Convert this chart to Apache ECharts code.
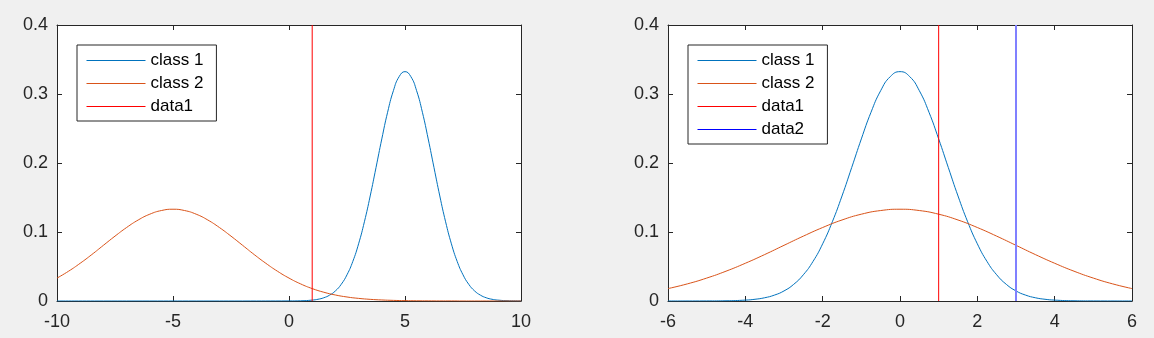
<!DOCTYPE html>
<html>
<head>
<meta charset="utf-8">
<script src="https://cdn.jsdelivr.net/npm/echarts@6/dist/echarts.min.js"></script>
<style>
html,body{margin:0;padding:0;background:#f0f0f0;}
#chart{width:1154px;height:338px;}
</style>
</head>
<body>
<div id="chart"></div>
<script>
// ---- data ----
var leftXTicks = [-10, -5, 0, 5, 10];
var rightXTicks = [-6, -4, -2, 0, 2, 4, 6];
var yTicks = [0, 0.1, 0.2, 0.3, 0.4];

var leftClass1X = [-10,-8,-6,-4,-2,0,0.5,1,1.25,1.5,1.75,2,2.25,2.5,2.75,3,3.25,3.5,3.75,4,4.25,4.5,4.75,5,5.25,5.5,5.75,6,6.25,6.5,6.75,7,7.25,7.5,7.75,8,8.25,8.5,8.75,9,9.5,10];
var leftClass1Y = [0,0,0,0,0,0.0001,0.0003,0.0013,0.0025,0.0047,0.0085,0.0146,0.0241,0.0380,0.0573,0.0829,0.1148,0.1522,0.1933,0.2349,0.2735,0.3048,0.3253,0.3324,0.3253,0.3048,0.2735,0.2349,0.1933,0.1522,0.1148,0.0829,0.0573,0.0380,0.0241,0.0146,0.0085,0.0047,0.0025,0.0013,0.0003,0.0001];

var leftClass2X = [-10,-9.5,-9,-8.5,-8,-7.5,-7,-6.5,-6,-5.5,-5,-4.5,-4,-3.5,-3,-2.5,-2,-1.5,-1,-0.5,0,0.5,1,1.5,2,2.5,3,3.5,4,4.5,5,5.5,6,6.5,7,7.5,8,8.5,9,9.5,10];
var leftClass2Y = [0.0332,0.0432,0.0547,0.0673,0.0807,0.0940,0.1065,0.1174,0.1258,0.1311,0.1330,0.1311,0.1258,0.1174,0.1065,0.0940,0.0807,0.0673,0.0547,0.0432,0.0332,0.0248,0.0180,0.0127,0.0087,0.0058,0.0038,0.0024,0.0015,0.0009,0.0005,0.0003,0.0002,0.0001,0.0001,0,0,0,0,0,0];

var rightClass1X = [-6,-5,-4.5,-4,-3.75,-3.5,-3.25,-3,-2.75,-2.5,-2.25,-2,-1.75,-1.5,-1.25,-1,-0.75,-0.5,-0.25,0,0.25,0.5,0.75,1,1.25,1.5,1.75,2,2.25,2.5,2.75,3,3.25,3.5,3.75,4,4.5,5,6];
var rightClass1Y = [0,0.0001,0.0003,0.0013,0.0025,0.0047,0.0085,0.0146,0.0241,0.0380,0.0573,0.0829,0.1148,0.1522,0.1933,0.2349,0.2735,0.3048,0.3253,0.3324,0.3253,0.3048,0.2735,0.2349,0.1933,0.1522,0.1148,0.0829,0.0573,0.0380,0.0241,0.0146,0.0085,0.0047,0.0025,0.0013,0.0003,0.0001,0];

var rightClass2X = [-6,-5.5,-5,-4.5,-4,-3.5,-3,-2.5,-2,-1.5,-1,-0.5,0,0.5,1,1.5,2,2.5,3,3.5,4,4.5,5,5.5,6];
var rightClass2Y = [0.0180,0.0248,0.0332,0.0432,0.0547,0.0673,0.0807,0.0940,0.1065,0.1174,0.1258,0.1311,0.1330,0.1311,0.1258,0.1174,0.1065,0.0940,0.0807,0.0673,0.0547,0.0432,0.0332,0.0248,0.0180];

var leftData1X = 1;
var rightData1X = 1;
var rightData2X = 3;
var vlineY = [0, 0.4];

var names = ['class 1', 'class 2', 'data1', 'data2'];

// ---- build ----
function zip(xs, ys) { return xs.map(function (x, i) { return [x, ys[i]]; }); }
function vline(x) { return vlineY.map(function (y) { return [x, y]; }); }

var FONT = '"Liberation Sans", Arial, Helvetica, sans-serif';
var AX = '#262626';
var C1 = '#0072BD', C2 = '#D95319', RED = '#FF0000', BLUE = '#0000FF', LIGHTBLUE = '#8080FF';

function xAxisDef(grid, ticks, pos, labels) {
  return {
    type: 'value', gridIndex: grid, position: pos,
    min: ticks[0], max: ticks[ticks.length - 1], interval: ticks[1] - ticks[0],
    axisLine: { show: true, onZero: false, lineStyle: { color: AX, width: 1 } },
    axisTick: { show: true, inside: true, length: 5, lineStyle: { color: AX } },
    axisLabel: { show: labels, color: AX, fontSize: 18, fontFamily: FONT, margin: 12 },
    splitLine: { show: false }
  };
}
function yAxisDef(grid, pos, labels) {
  return {
    type: 'value', gridIndex: grid, position: pos,
    min: yTicks[0], max: yTicks[yTicks.length - 1], interval: yTicks[1] - yTicks[0],
    axisLine: { show: true, onZero: false, lineStyle: { color: AX, width: 1 } },
    axisTick: { show: true, inside: true, length: 5, lineStyle: { color: AX } },
    axisLabel: { show: labels, color: AX, fontSize: 18, fontFamily: FONT, margin: 9 },
    splitLine: { show: false }
  };
}
function lineSeries(name, data, xi, yi, color, width, smooth) {
  return {
    type: 'line', name: name, data: data, xAxisIndex: xi, yAxisIndex: yi,
    symbol: 'none', showSymbol: false, smooth: smooth,
    color: color,
    lineStyle: { color: color, width: width },
    itemStyle: { color: color },
    emphasis: { disabled: true }, animation: false, z: 3
  };
}
function legendDef(left, items) {
  return {
    left: left, top: 45, orient: 'vertical',
    data: items,
    backgroundColor: '#ffffff', borderColor: AX, borderWidth: 1,
    padding: [7, 13, 6, 9], itemGap: 6, itemWidth: 59, itemHeight: 17,
    textStyle: { color: '#000', fontSize: 17, fontFamily: FONT },
    itemStyle: { opacity: 0, borderWidth: 0 },
    lineStyle: { width: 1 },
    selectedMode: false
  };
}

var option = {
  backgroundColor: '#f0f0f0',
  animation: false,
  grid: [
    { left: 57, top: 25, width: 464, height: 276, show: true, backgroundColor: '#ffffff', borderWidth: 0 },
    { left: 668, top: 25, width: 464, height: 276, show: true, backgroundColor: '#ffffff', borderWidth: 0 }
  ],
  xAxis: [
    xAxisDef(0, leftXTicks, 'bottom', true),
    xAxisDef(0, leftXTicks, 'top', false),
    xAxisDef(1, rightXTicks, 'bottom', true),
    xAxisDef(1, rightXTicks, 'top', false)
  ],
  yAxis: [
    yAxisDef(0, 'left', true),
    yAxisDef(0, 'right', false),
    yAxisDef(1, 'left', true),
    yAxisDef(1, 'right', false)
  ],
  legend: [
    legendDef(77, [names[0], names[1], names[2]]),
    legendDef(688, [names[0], names[1], names[2],
      { name: names[3], lineStyle: { color: BLUE, width: 1 } }])
  ],
  series: [
    lineSeries(names[0], zip(leftClass1X, leftClass1Y), 0, 0, C1, 1, true),
    lineSeries(names[1], zip(leftClass2X, leftClass2Y), 0, 0, C2, 1, true),
    lineSeries(names[2], vline(leftData1X), 0, 0, RED, 1, false),
    lineSeries(names[0], zip(rightClass1X, rightClass1Y), 2, 2, C1, 1, true),
    lineSeries(names[1], zip(rightClass2X, rightClass2Y), 2, 2, C2, 1, true),
    lineSeries(names[2], vline(rightData1X), 2, 2, RED, 1, false),
    lineSeries(names[3], vline(rightData2X), 2, 2, LIGHTBLUE, 2, false)
  ]
};

var chart = echarts.init(document.getElementById('chart'), null, { renderer: 'canvas' });
chart.setOption(option);
</script>
</body>
</html>
